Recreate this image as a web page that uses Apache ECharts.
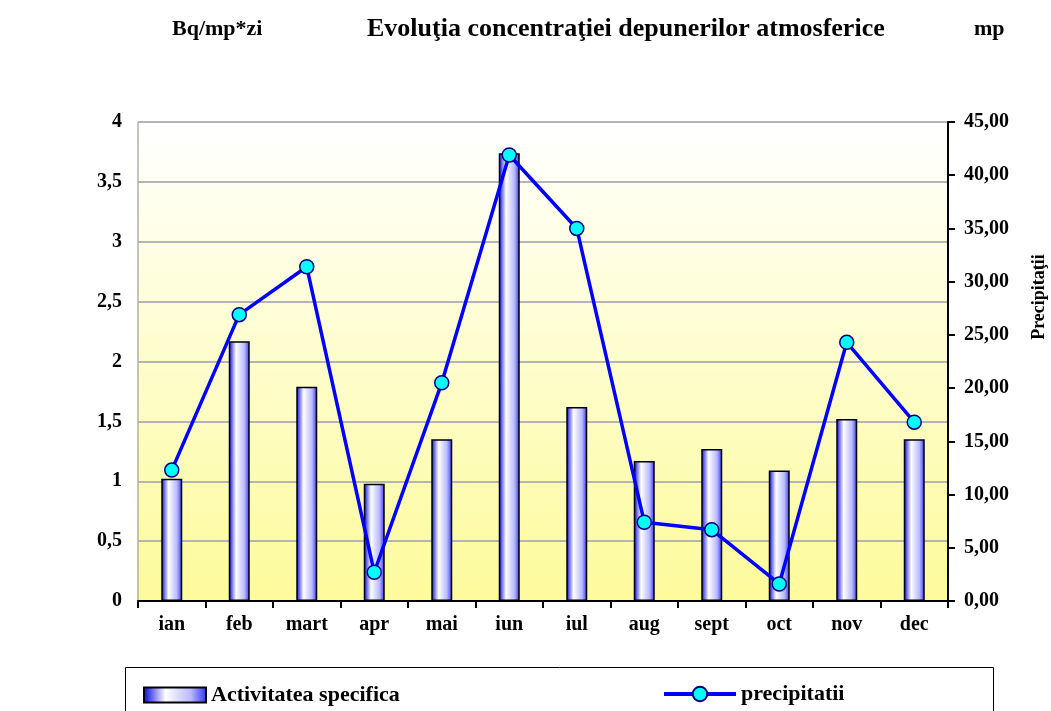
<!DOCTYPE html>
<html>
<head>
<meta charset="utf-8">
<script src="https://cdn.jsdelivr.net/npm/echarts@6/dist/echarts.min.js"></script>
<style>
  html, body { margin: 0; padding: 0; background: #fff; }
  #main { width: 1051px; height: 711px; }
</style>
</head>
<body>
<div id="main"></div>
<script>
// luni
var months = ['ian', 'feb', 'mart', 'apr', 'mai', 'iun', 'iul', 'aug', 'sept', 'oct', 'nov', 'dec'];
// Activitatea specifica (Bq/mp*zi)
var activitate = [1.02, 2.17, 1.79, 0.98, 1.35, 3.74, 1.62, 1.17, 1.27, 1.09, 1.52, 1.35];
// precipitatii (mp)
var precipitatii = [12.3, 26.9, 31.4, 2.7, 20.5, 41.9, 35.0, 7.4, 6.7, 1.6, 24.3, 16.8];

var serif = '"Liberation Serif", "Times New Roman", serif';

var chart = echarts.init(document.getElementById('main'));

var barFill = new echarts.graphic.LinearGradient(0, 0, 1, 0, [
  { offset: 0, color: '#0000e6' },
  { offset: 0.35, color: '#ffffff' },
  { offset: 0.75, color: '#b8b8ff' },
  { offset: 1, color: '#3030ff' }
]);

var tickFont = { fontFamily: serif, fontSize: 20, fontWeight: 'bold', color: '#000' };

var option = {
  animation: false,
  backgroundColor: '#ffffff',
  title: [
    { text: 'Bq/mp*zi', left: 167, top: 13, textStyle: { fontFamily: serif, fontSize: 22, fontWeight: 'bold', color: '#000' } },
    { text: 'Evoluţia concentraţiei depunerilor atmosferice', left: 362, top: 11, textStyle: { fontFamily: serif, fontSize: 26, fontWeight: 'bold', color: '#000' } },
    { text: 'mp', left: 969, top: 13, textStyle: { fontFamily: serif, fontSize: 22, fontWeight: 'bold', color: '#000' } }
  ],
  grid: {
    left: 138, right: 103, top: 122, bottom: 110,
    show: true,
    borderColor: '#888',
    borderWidth: 1,
    backgroundColor: new echarts.graphic.LinearGradient(0, 0, 0, 1, [
      { offset: 0, color: '#ffffff' },
      { offset: 1, color: '#fdfb9a' }
    ])
  },
  legend: [
    {
      data: [{ name: 'Activitatea specifica', icon: 'rect' }],
      left: 138, top: 679,
      itemWidth: 62, itemHeight: 15,
      textStyle: { fontFamily: serif, fontSize: 22, fontWeight: 'bold', color: '#000' }
    },
    {
      data: ['precipitatii'],
      left: 657, top: 678,
      itemWidth: 72, itemHeight: 18,
      lineStyle: { width: 4 },
      textStyle: { fontFamily: serif, fontSize: 22, fontWeight: 'bold', color: '#000' }
    }
  ],
  graphic: [
    {
      type: 'rect',
      shape: { x: 125.5, y: 667.5, width: 868, height: 60 },
      style: { fill: 'none', stroke: '#000', lineWidth: 1 }
    },
    {
      type: 'text',
      x: 1039, y: 297,
      rotation: Math.PI / 2,
      style: {
        text: 'Precipitaţii',
        fontFamily: serif, fontSize: 18, fontWeight: 'bold', fill: '#000',
        align: 'center', verticalAlign: 'middle'
      }
    }
  ],
  xAxis: {
    type: 'category',
    data: months,
    boundaryGap: true,
    axisLine: { lineStyle: { color: '#000', width: 2 } },
    axisTick: { show: true, length: 7, lineStyle: { color: '#000', width: 2 } },
    axisLabel: Object.assign({ margin: 14 }, tickFont)
  },
  yAxis: [
    {
      type: 'value',
      min: 0, max: 4, interval: 0.5,
      axisLine: { show: false },
      axisTick: { show: false },
      splitLine: { lineStyle: { color: '#b4b4b4', width: 2 } },
      axisLabel: Object.assign({
        margin: 16,
        formatter: function (v) { return String(v).replace('.', ','); }
      }, tickFont)
    },
    {
      type: 'value',
      min: 0, max: 45, interval: 5,
      position: 'right',
      axisLine: { show: true, lineStyle: { color: '#000', width: 2 } },
      axisTick: { show: true, inside: false, length: 7, lineStyle: { color: '#000', width: 2 } },
      splitLine: { show: false },
      axisLabel: Object.assign({
        margin: 16,
        formatter: function (v) { return v.toFixed(2).replace('.', ','); }
      }, tickFont)
    }
  ],
  series: [
    {
      name: 'Activitatea specifica',
      type: 'bar',
      yAxisIndex: 0,
      data: activitate,
      barWidth: 21,
      itemStyle: { color: barFill, borderColor: '#000', borderWidth: 1.5 }
    },
    {
      name: 'precipitatii',
      type: 'line',
      yAxisIndex: 1,
      data: precipitatii,
      symbol: 'circle',
      symbolSize: 14,
      lineStyle: { color: '#0000ff', width: 3.5 },
      itemStyle: { color: '#00ffff', borderColor: '#000080', borderWidth: 1.5 }
    }
  ]
};

chart.setOption(option);
</script>
</body>
</html>
